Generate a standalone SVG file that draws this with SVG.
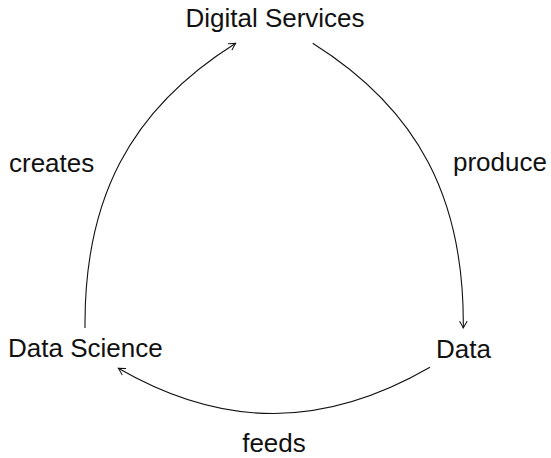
<svg xmlns="http://www.w3.org/2000/svg" width="551" height="458" viewBox="0 0 551 458">
  <style>
    .label { font-family: "Liberation Sans", Arial, Helvetica, sans-serif; font-size: 26px; fill: #111; }
    .edge { fill: none; stroke: #111; stroke-width: 1.1; marker-end: url(#tip); }
  </style>
  <defs>
    <!-- thin open arrow tip -->
    <marker id="tip" viewBox="-8 -5 10 10" refX="0" refY="0" markerWidth="10" markerHeight="10" markerUnits="userSpaceOnUse" orient="auto">
      <path d="M -6.5 -3.6 Q -2 -1 0 0 Q -2 1 -6.5 3.6" fill="none" stroke="#111" stroke-width="1" stroke-linecap="round"/>
    </marker>
  </defs>
  <rect width="551" height="458" fill="#ffffff"/>

  <g id="connectors">
    <path id="e-produce" class="edge" d="M 312.7 43.3 C 419.4 110.3 464.5 200 463.3 328"/>
    <path id="e-feeds" class="edge" d="M 430 367.3 C 324.3 428.3 224 429.3 118.3 368.3"/>
    <path id="e-creates" class="edge" d="M 85 328 C 83.9 200 129 110.3 235.7 43.3"/>
    <text class="label" x="453" y="171">produce</text>
    <text class="label" x="9" y="172">creates</text>
    <text class="label" x="274" y="452" text-anchor="middle">feeds</text>
  </g>

  <g id="node-digital-services">
    <text class="label" x="275" y="27" text-anchor="middle">Digital Services</text>
  </g>
  <g id="node-data">
    <text class="label" x="436" y="358">Data</text>
  </g>
  <g id="node-data-science">
    <text class="label" x="8" y="357">Data Science</text>
  </g>
</svg>
